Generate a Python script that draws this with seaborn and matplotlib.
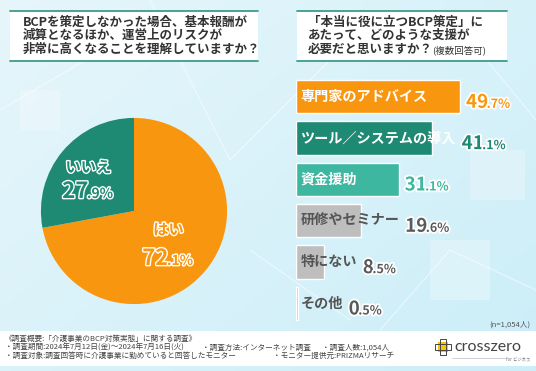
import numpy as np
import pandas as pd
import matplotlib
matplotlib.use('Agg')
import matplotlib.pyplot as plt
import matplotlib.patheffects as pe
from matplotlib.patches import Rectangle
import seaborn as sns

# ---- data ----
pie_labels = ['はい', 'いいえ']
pie_values = [72.1, 27.9]

support_items = ['専門家のアドバイス', 'ツール／システムの導入', '資金援助',
                 '研修やセミナー', '特にない', 'その他']
support_values = [49.7, 41.1, 31.1, 19.6, 8.5, 0.5]

q1_lines = ['BCPを策定しなかった場合、基本報酬が',
            '減算となるほか、運営上のリスクが',
            '非常に高くなることを理解していますか？']
q2_lines = ['「本当に役に立つBCP策定」に',
            'あたって、どのような支援が',
            '必要だと思いますか？']
q2_note = '(複数回答可)'
sample_note = '(n=1,054人)'

# ---- style ----
ORANGE = '#F9960F'
TEAL_D = '#1E8A73'
TEAL_L = '#3DB7A0'
GRAY = '#BEBEBE'
TXT = '#333333'
bar_colors = [ORANGE, TEAL_D, TEAL_L, GRAY, GRAY, GRAY]
label_colors = ['white', 'white', 'white', '#555555', '#555555', '#555555']
value_colors = [ORANGE, TEAL_D, TEAL_L, '#5a5a5a', '#5a5a5a', '#5a5a5a']
pie_colors = [ORANGE, TEAL_D]

sns.set_theme(style='white')
plt.rcParams['font.family'] = ['Noto Sans CJK JP', 'DejaVu Sans']

W, H = 536, 371
fig = plt.figure(figsize=(W / 100, H / 100), dpi=100)

# background in pixel coordinates
bg = fig.add_axes([0, 0, 1, 1])
bg.set_xlim(0, W)
bg.set_ylim(H, 0)
bg.axis('off')
gx = np.linspace(0, 1, 200)
gy = np.linspace(0, 1, 140)
grad = 0.55 * gx[None, :] + 0.45 * gy[:, None]
cmap = matplotlib.colors.LinearSegmentedColormap.from_list('bgc', ['#E6F6FB', '#CCEEF8'])
bg.imshow(grad, extent=[0, W, H, 0], cmap=cmap, aspect='auto', zorder=0)
# faint decorative lines
for (x0, y0, x1, y1) in [(150, 0, 230, 160), (230, 160, 330, 60), (330, 60, 470, 40),
                         (470, 40, 536, 120), (380, 330, 450, 250), (450, 250, 536, 290),
                         (0, 110, 120, 40), (250, 250, 350, 320)]:
    bg.plot([x0, x1], [y0, y1], color='white', lw=0.8, alpha=0.55, zorder=1)
for (x0, y0, w, h) in [(430, 240, 60, 60), (470, 150, 55, 50), (20, 90, 40, 40)]:
    bg.add_patch(Rectangle((x0, y0), w, h, color='white', alpha=0.25, lw=0, zorder=1))

# title boxes
for (x0, x1) in [(10, 258), (297, 507)]:
    bg.add_patch(Rectangle((x0, 11), x1 - x0, 50, facecolor='white', edgecolor='none', zorder=2))
    bg.plot([x0, x1], [11, 11], color='#3D9B8B', lw=1.3, zorder=3)
    bg.plot([x0, x1], [61, 61], color='#3D9B8B', lw=1.3, zorder=3)
for k, line in enumerate(q1_lines):
    bg.text(23, 22 + 13.8 * k, line, fontsize=9, color=TXT, fontweight='bold',
            va='center', ha='left', zorder=4)
for k, line in enumerate(q2_lines):
    t = bg.text(308, 22 + 13.8 * k, line, fontsize=9, color=TXT, fontweight='bold',
                va='center', ha='left', zorder=4)
r = fig.canvas.get_renderer()
ext = t.get_window_extent(r)
bg.text(ext.x1 - 1, 22 + 13.8 * 2 + 1, q2_note, fontsize=6.8, color=TXT, va='center',
        ha='left', zorder=4)

# footer
bg.add_patch(Rectangle((0, 331), W, 35, facecolor='white', edgecolor='none', zorder=2))
fs = 5.5
fc = '#444444'
bg.text(5, 339, '《調査概要:「介護事業のBCP対策実態」に関する調査》', fontsize=fs, color=fc, va='center', zorder=4)
bg.text(5, 348, '・調査期間:2024年7月12日(金)～2024年7月16日(火)', fontsize=fs, color=fc, va='center', zorder=4)
bg.text(202, 348, '・調査方法:インターネット調査', fontsize=fs, color=fc, va='center', zorder=4)
bg.text(322, 348, '・調査人数:1,054人', fontsize=fs, color=fc, va='center', zorder=4)
bg.text(5, 356, '・調査対象:調査回答時に介護事業に勤めていると回答したモニター', fontsize=fs, color=fc, va='center', zorder=4)
bg.text(273, 356, '・モニター提供元:PRIZMAリサーチ', fontsize=fs, color=fc, va='center', zorder=4)
bg.text(530, 325, sample_note, fontsize=5.5, color='#555555', va='center', ha='right', zorder=4)
# logo
bg.add_patch(Rectangle((438, 342), 10, 10, facecolor='#F7C600', edgecolor='none', zorder=4))
bg.add_patch(Rectangle((440, 339), 6, 16, facecolor='none', edgecolor='#444444', lw=0.7, zorder=5))
bg.add_patch(Rectangle((435, 344), 16, 6, facecolor='none', edgecolor='#444444', lw=0.7, zorder=5))
bg.text(454, 347, 'crosszero', family='Lato', fontsize=11.5, color='#444444', va='center', ha='left', zorder=4)
bg.plot([452, 505], [358, 358], color='#bbbbbb', lw=0.5, zorder=4)
bg.text(530, 359, 'for ビジネス', fontsize=3.2, color='#777777', va='center', ha='right', zorder=4)


def split_pct(ax, x, y, val, big, small, color, ha='left', stroke=2.5):
    whole, frac = f'{val:.1f}'.split('.')
    fx = [pe.withStroke(linewidth=stroke, foreground='white')]
    rr = fig.canvas.get_renderer()
    t1 = ax.text(x, y, whole, fontsize=big, color=color, fontweight='bold',
                 va='baseline', ha='left', path_effects=fx, zorder=6)
    t2 = ax.text(x, y, '.' + frac + '%', fontsize=small, color=color, fontweight='bold',
                 va='baseline', ha='left', path_effects=fx, zorder=6)
    w1 = t1.get_window_extent(rr).width
    w2 = t2.get_window_extent(rr).width
    x0 = ax.transData.transform((x, y))[0]
    if ha == 'center':
        x0 -= (w1 + w2) / 2
    inv = ax.transData.inverted()
    t1.set_x(inv.transform((x0, 0))[0])
    t2.set_x(inv.transform((x0 + w1 - 1.5, 0))[0])


# ---- pie ----
R = 93
cx, cy = 134, 211
pax = fig.add_axes([(cx - R - 1) / W, (H - cy - R - 1) / H, (2 * R + 2) / W, (2 * R + 2) / H])
pax.pie(pie_values, colors=pie_colors, startangle=90, counterclock=False,
        wedgeprops=dict(linewidth=0))
pax.set_xlim(-1.01, 1.01)
pax.set_ylim(-1.01, 1.01)
pax.axis('off')
fxw = [pe.withStroke(linewidth=2, foreground='white')]
pax.text(-0.49, 0.47, pie_labels[1], fontsize=11, color=TEAL_D, fontweight='bold',
         ha='center', va='center', path_effects=fxw)
split_pct(pax, -0.49, 0.14, pie_values[1], 16, 10, TEAL_D, ha='center', stroke=2)
pax.text(0.37, -0.2, pie_labels[0], fontsize=11, color=ORANGE, fontweight='bold',
         ha='center', va='center', path_effects=fxw)
split_pct(pax, 0.37, -0.58, pie_values[0], 16, 10, ORANGE, ha='center', stroke=2)

# ---- bars ----
bax = fig.add_axes([296 / W, (H - 324) / H, (W - 296) / W, 248 / H])
df = pd.DataFrame({'item': support_items, 'value': support_values})
sns.barplot(data=df, x='value', y='item', hue='item', palette=bar_colors,
            legend=False, width=0.8, saturation=1, ax=bax)
bax.set_xlim(0, (W - 296) / 3.3)
bax.axis('off')
bax.patch.set_alpha(0)

rr = fig.canvas.get_renderer()
for i, (item, val) in enumerate(zip(support_items, support_values)):
    lab = bax.text(1.3, i, item, fontsize=10.2, color=label_colors[i], fontweight='bold',
                   va='center', ha='left', zorder=5)
    bb = lab.get_window_extent(rr)
    bar_end = bax.transData.transform((val, i))[0]
    x_px = max(bb.x1, bar_end) + 6
    x_data = bax.transData.inverted().transform((x_px, 0))[0]
    split_pct(bax, x_data, i + 0.27, val, 13.5, 9, value_colors[i])

fig.savefig('out.png', dpi=100)
